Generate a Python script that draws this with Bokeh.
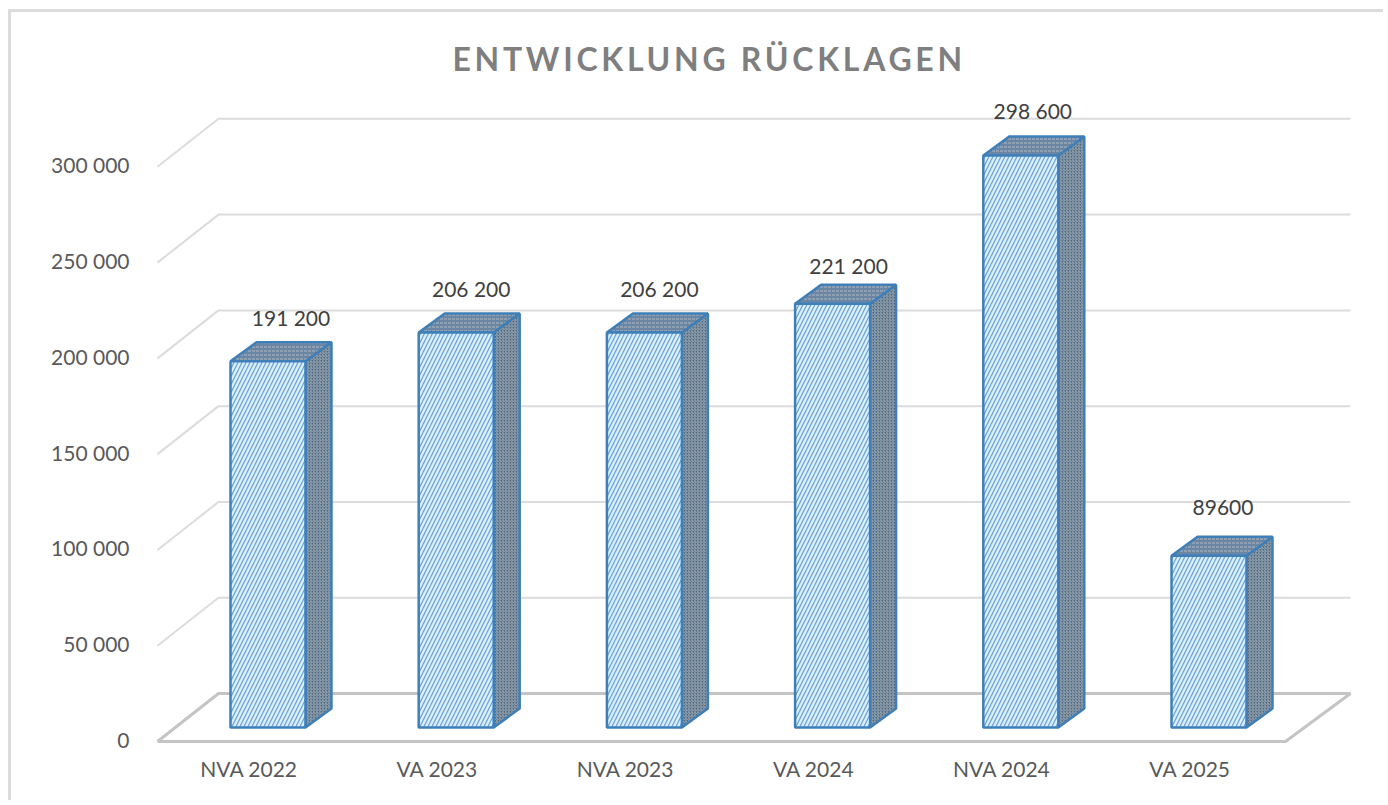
from bokeh.plotting import figure
from bokeh.models import Range1d, LinearAxis, FixedTicker, ColumnDataSource, CustomJSTickFormatter
from bokeh.core.properties import value
from bokeh.embed import file_html
from bokeh.resources import INLINE

categories = ["NVA 2022", "VA 2023", "NVA 2023", "VA 2024", "NVA 2024", "VA 2025"]
reserves = [191200, 206200, 206200, 221200, 298600, 89600]
reserve_labels = ["191 200", "206 200", "206 200", "221 200", "298 600", "89600"]
y_ticks = [0, 50000, 100000, 150000, 200000, 250000, 300000]

# layout (page pixels)
W, H = 1388, 805
F_L, F_R, F_T, F_B = 150, 1388, 90, 745
X0, XS = 267.5, 188.2        # first category centre, category spacing
Y0, YS = 727, 522.03         # front-plane baseline, value per pixel
HW = 37.5 / XS               # half bar width
DX, DY = 26 / XS, 19 * YS    # bar depth
LABEL_DX = [23, 15, 15, 16, 12, 14]
LABEL_DY = [44, 44, 44, 38, 45, 48]
FONT = "Lato"
TITLE = "ENTWICKLUNG RÜCKLAGEN"
BORDER = "#dcdcdc"

ux = lambda px: (px - X0) / XS
uy = lambda py: (Y0 - py) * YS

p = figure(width=W, height=H, output_backend="svg", toolbar_location=None,
           x_range=Range1d(ux(F_L), ux(F_R)), y_range=Range1d(uy(F_B), uy(F_T)),
           x_axis_location=None, y_axis_location=None,
           min_border_left=F_L, min_border_right=W - F_R, min_border_top=F_T, min_border_bottom=H - F_B,
           title=TITLE)
p.outline_line_color = None
p.grid.visible = False
p.border_fill_color = None
p.background_fill_color = None
# the chart area has only a top and a left border line
p.styles = {"background": (f"linear-gradient({BORDER},{BORDER}) 8px 9px/1375px 3px no-repeat,"
                           f"linear-gradient({BORDER},{BORDER}) 8px 9px/3px 791px no-repeat,#ffffff")}
p.title.text_font = FONT
p.title.text_font_size = "32px"
p.title.text_font_style = "bold"
p.title.text_color = "#7f7f7f"
p.title.align = "left"
p.title.offset = 452 - F_L
p.title.standoff = 25

# value axis: labels sit on the front edge of the floor
AX_OFF = 12
p.extra_y_ranges = {"front": Range1d(uy(F_B - AX_OFF), uy(F_T - AX_OFF))}
ya = LinearAxis(y_range_name="front", ticker=FixedTicker(ticks=y_ticks),
                formatter=CustomJSTickFormatter(code="return tick.toString().replace(/\\B(?=(\\d{3})+$)/g,' ')"))
ya.axis_line_color = None
ya.major_tick_line_color = None
ya.minor_tick_line_color = None
ya.major_label_text_font = FONT
ya.major_label_text_font_size = "21px"
ya.major_label_text_color = "#595959"
ya.major_label_standoff = 15
p.add_layout(ya, "left")

# category axis: labels sit a little left of the bars
LAB_OFF = 19
p.extra_x_ranges = {"cats": Range1d(ux(F_L + LAB_OFF), ux(F_R + LAB_OFF))}
xa = LinearAxis(x_range_name="cats", ticker=FixedTicker(ticks=list(range(len(categories)))))
xa.major_label_overrides = {i: c for i, c in enumerate(categories)}
xa.axis_line_color = None
xa.major_tick_line_color = None
xa.minor_tick_line_color = None
xa.major_label_text_font = FONT
xa.major_label_text_font_size = "21px"
xa.major_label_text_color = "#595959"
xa.major_label_standoff = 4
p.add_layout(xa, "below")

# walls
back_off = uy(693)
wall_l, wall_r, front_l = ux(218), ux(1350), ux(157)
side_y = 48 * YS
for t in y_ticks[1:]:
    v = t + back_off
    p.line([front_l, wall_l, wall_r], [v - side_y, v, v], line_color="#dcdcdc", line_width=2)

# floor
front_r = ux(1285)
p.line([front_l, wall_l, wall_r, front_r, front_l],
       [back_off - side_y, back_off, back_off, back_off - side_y, back_off - side_y],
       line_color="#c4c4c4", line_width=3)

# bars
BLUE = "#3f7fb8"
src_side = ColumnDataSource(dict(
    xs=[[i + HW, i + HW + DX, i + HW + DX, i + HW] for i in range(len(reserves))],
    ys=[[0, DY, v + DY, v] for v in reserves]))
src_top = ColumnDataSource(dict(
    xs=[[i - HW, i + HW, i + HW + DX, i - HW + DX] for i in range(len(reserves))],
    ys=[[v, v, v + DY, v + DY] for v in reserves]))
p.patches("xs", "ys", source=src_side, fill_color="#50687f", line_color=BLUE, line_width=2.5,
          hatch_pattern="right_diagonal_line", hatch_color="#9aa8b5", hatch_scale=3, hatch_weight=1)
p.patches("xs", "ys", source=src_top, fill_color="#6a86a3", line_color=BLUE, line_width=2.5,
          hatch_pattern="horizontal_dash", hatch_color="#aeb8c4", hatch_scale=4, hatch_weight=1)
p.vbar(x=list(range(len(reserves))), top=reserves, bottom=0, width=2 * HW,
       fill_color="#dcf0fc", line_color=BLUE, line_width=2.5,
       hatch_pattern="right_diagonal_line", hatch_color="#6ba3d6", hatch_scale=8, hatch_weight=1.3)

# data labels
lab = ColumnDataSource(dict(
    x=[i + dx / XS for i, dx in enumerate(LABEL_DX)],
    y=[v + dy * YS for v, dy in zip(reserves, LABEL_DY)],
    t=reserve_labels))
p.text("x", "y", "t", source=lab, text_align="center", text_baseline="middle",
       text_font=value(FONT), text_font_size="21px", text_color="#404040")

# the title is tracked wide: apply letter spacing to the rendered svg text
TRACK = """<script>
(function(){
  var title = %r, n = 0;
  function walk(root){
    root.querySelectorAll('*').forEach(function(el){
      if(el.shadowRoot) walk(el.shadowRoot);
      if(el.tagName.toLowerCase()==='text' && el.textContent===title) el.style.letterSpacing='3.7px';
    });
  }
  var t = setInterval(function(){ walk(document); if(++n>40) clearInterval(t); }, 50);
})();
</script></body>""" % TITLE

open("out.html", "w", encoding="utf-8").write(file_html(p, INLINE).replace("</body>", TRACK))
